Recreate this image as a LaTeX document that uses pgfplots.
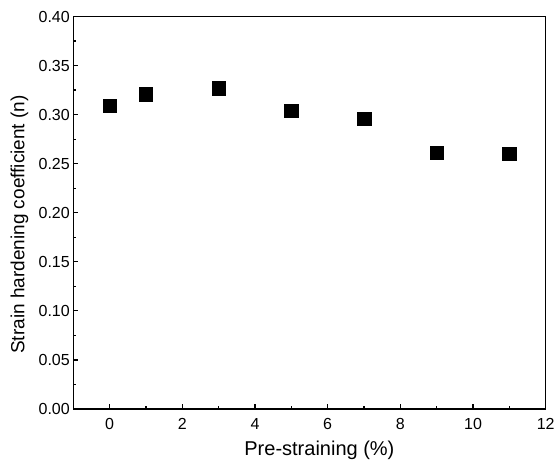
\documentclass[border=0pt]{standalone}
\usepackage{fontspec}
\setmainfont{Liberation Sans}
\usepackage{pgfplots}
\pgfplotsset{compat=1.18}
\newcommand{\tickfont}{\fontsize{16}{18}\selectfont}

\begin{document}
\begin{tikzpicture}[x=1pt,y=1pt]
  \path[use as bounding box] (-73.3,-54) rectangle (484.7,409);
  \begin{axis}[
    at={(0,0)}, anchor=south west,
    scale only axis,
    width=472.4pt, height=392.5pt,
    xmin=-1, xmax=12,
    ymin=0, ymax=0.40,
    xtick={0,2,...,12},
    ytick={0,0.05,...,0.40},
    minor x tick num=1,
    minor y tick num=1,
    xtick pos=bottom, ytick pos=left,
    tick align=inside,
    major tick length=5pt, minor tick length=3pt,
    axis line style={line width=1.4pt},
    every tick/.style={black, line width=1.2pt},
    xticklabel={\tickfont\pgfmathprintnumber[assume math mode=true]{\tick}},
    yticklabel={\tickfont\pgfmathprintnumber[assume math mode=true,fixed,fixed zerofill,precision=2]{\tick}},
    xticklabel style={yshift=-6pt},
    xlabel={Pre-straining (\%)},
    ylabel={Strain hardening coefficient (n)},
    every axis x label/.style={at={(axis description cs:0.521,0)}, yshift=-41pt, anchor=center, font=\fontsize{20}{24}\selectfont},
    every axis y label/.style={at={(axis description cs:-0.114,0.47)}, rotate=90, anchor=center, font=\fontsize{19}{22}\selectfont},
  ]
    \addplot[only marks, mark=square*, mark size=6.7pt, black] coordinates {
      (0,0.309) (1,0.321) (3,0.327) (5,0.304) (7,0.296) (9,0.261) (11,0.260)
    };
  \end{axis}
\end{tikzpicture}
\end{document}
